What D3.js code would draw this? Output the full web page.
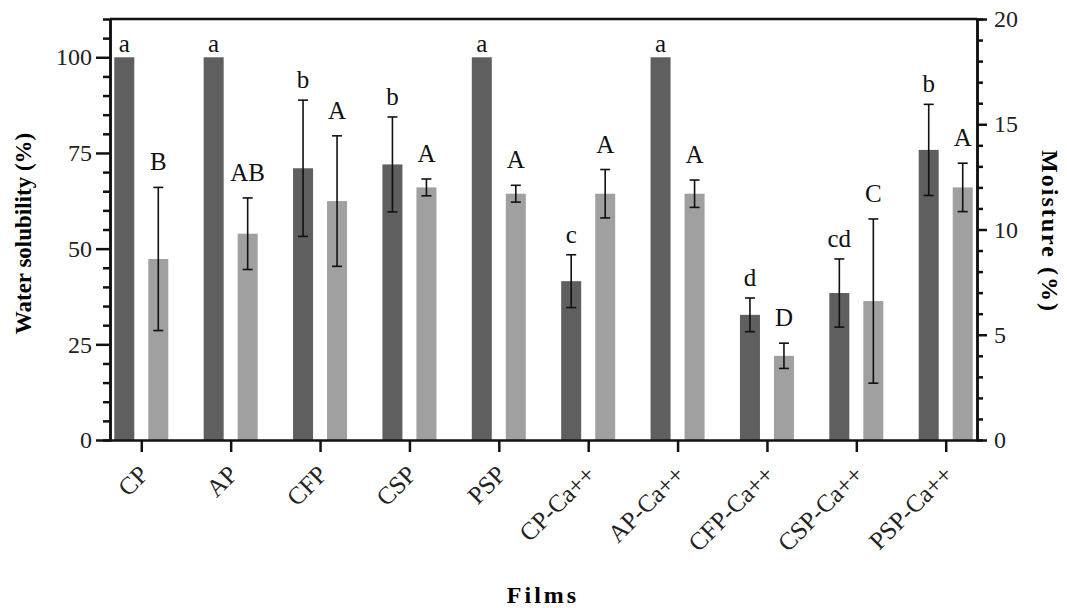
<!DOCTYPE html>
<html>
<head>
<meta charset="utf-8">
<script src="https://cdn.jsdelivr.net/npm/d3@7"></script>
<style>
  body { margin: 0; background: #fff; }
  svg { display: block; font-family: "Liberation Serif", "Times New Roman", serif; }
</style>
</head>
<body>
<svg id="chart" width="1067" height="608"></svg>
<script>
// films on x axis
const films = ['CP', 'AP', 'CFP', 'CSP', 'PSP', 'CP-Ca++', 'AP-Ca++', 'CFP-Ca++', 'CSP-Ca++', 'PSP-Ca++'];

// water solubility (%), left axis
const solubility = [100, 100, 71, 72, 100, 41.5, 100, 32.7, 38.4, 75.8];
const solubilityErr = [0, 0, 17.8, 12.4, 0, 6.9, 0, 4.4, 8.9, 11.9];
const solubilityLetters = ['a', 'a', 'b', 'b', 'a', 'c', 'a', 'd', 'cd', 'b'];

// moisture (%), right axis
const moisture = [8.6, 9.8, 11.35, 12.0, 11.7, 11.7, 11.7, 4.0, 6.6, 12.0];
const moistureErr = [3.4, 1.7, 3.1, 0.4, 0.4, 1.15, 0.65, 0.6, 3.9, 1.15];
const moistureLetters = ['B', 'AB', 'A', 'A', 'A', 'A', 'A', 'D', 'C', 'A'];

const leftTicks = [0, 25, 50, 75, 100];
const rightTicks = [0, 5, 10, 15, 20];

const margin = { top: 19, right: 90, bottom: 168, left: 110 };
const width = 1067 - margin.left - margin.right;
const height = 608 - margin.top - margin.bottom;

const svg = d3.select('#chart')
  .append('g')
  .attr('transform', 'translate(' + margin.left + ',' + margin.top + ')');

const x = d3.scalePoint().domain(films).range([0, width]).padding(0.35);
const yL = d3.scaleLinear().domain([0, 110]).range([height, 0]);
const yR = d3.scaleLinear().domain([0, 20]).range([height, 0]);

const barW = 20;
const offset = 17;
const dark = '#5f5f5f';
const light = '#a0a0a0';

// bars
svg.selectAll('.bar-s')
  .data(films)
  .enter()
  .append('rect')
  .attr('x', (d) => x(d) - offset - barW / 2)
  .attr('y', (d, i) => yL(solubility[i]))
  .attr('width', barW)
  .attr('height', (d, i) => height - yL(solubility[i]))
  .attr('fill', dark);

svg.selectAll('.bar-m')
  .data(films)
  .enter()
  .append('rect')
  .attr('x', (d) => x(d) + offset - barW / 2)
  .attr('y', (d, i) => yR(moisture[i]))
  .attr('width', barW)
  .attr('height', (d, i) => height - yR(moisture[i]))
  .attr('fill', light);

// error bars
function errorBars(vals, errs, y, dx) {
  films.forEach((f, i) => {
    if (!errs[i]) return;
    const cx = x(f) + dx;
    const y0 = y(vals[i] - errs[i]);
    const y1 = y(vals[i] + errs[i]);
    const g = svg.append('g').attr('stroke', '#111').attr('stroke-width', 1.6);
    g.append('line').attr('x1', cx).attr('x2', cx).attr('y1', y0).attr('y2', y1);
    g.append('line').attr('x1', cx - 5).attr('x2', cx + 5).attr('y1', y0).attr('y2', y0);
    g.append('line').attr('x1', cx - 5).attr('x2', cx + 5).attr('y1', y1).attr('y2', y1);
  });
}
errorBars(solubility, solubilityErr, yL, -offset);
errorBars(moisture, moistureErr, yR, offset);

// significance letters
function letters(vals, errs, labels, y, dx, gap, gapBare) {
  svg.selectAll(null)
    .data(films)
    .enter()
    .append('text')
    .attr('x', (d) => x(d) + dx)
    .attr('y', (d, i) => y(vals[i] + errs[i]) - (errs[i] ? gap : gapBare))
    .attr('text-anchor', 'middle')
    .attr('font-size', 25)
    .attr('fill', '#111')
    .text((d, i) => labels[i]);
}
letters(solubility, solubilityErr, solubilityLetters, yL, -offset, 12, 5);
letters(moisture, moistureErr, moistureLetters, yR, offset, 17, 17);

// axes
const axisStroke = 2.5;

const left = svg.append('g')
  .call(d3.axisLeft(yL).tickValues(leftTicks).tickSize(14).tickPadding(4).tickSizeOuter(0));
left.append('g')
  .call(d3.axisLeft(yL).tickValues(d3.range(5, 110, 5).filter((v) => v % 25 !== 0)).tickSize(7).tickFormat(''));

const right = svg.append('g')
  .attr('transform', 'translate(' + width + ',0)')
  .call(d3.axisRight(yR).tickValues(rightTicks).tickSize(10).tickPadding(7).tickSizeOuter(0));
right.append('g')
  .call(d3.axisRight(yR).tickValues(d3.range(1, 20, 1).filter((v) => v % 5 !== 0)).tickSize(6).tickFormat(''));

const bottom = svg.append('g')
  .attr('transform', 'translate(0,' + height + ')')
  .call(d3.axisBottom(x).tickSize(12).tickPadding(6).tickSizeOuter(0));

svg.selectAll('.domain').attr('stroke', '#111').attr('stroke-width', axisStroke);
svg.selectAll('.tick line').attr('stroke', '#111').attr('stroke-width', axisStroke);
svg.selectAll('.tick text')
  .attr('font-size', 24)
  .attr('fill', '#222')
  .attr('font-family', '"Liberation Serif", "Times New Roman", serif');

bottom.selectAll('text')
  .attr('text-anchor', 'end')
  .attr('x', 0)
  .attr('y', 0)
  .attr('dy', 0)
  .attr('font-size', 25)
  .attr('transform', 'translate(8,36) rotate(-45)');

// top border
svg.append('line')
  .attr('x1', 0).attr('x2', width)
  .attr('y1', 0).attr('y2', 0)
  .attr('stroke', '#111').attr('stroke-width', axisStroke);

// axis titles
svg.append('text')
  .attr('transform', 'translate(' + (-79) + ',' + (height / 2 + 4) + ') rotate(-90)')
  .attr('text-anchor', 'middle')
  .attr('font-size', 23)
  .attr('font-weight', 'bold')
  .text('Water solubility (%)');

svg.append('text')
  .attr('transform', 'translate(' + (width + 65) + ',' + (height / 2 + 2) + ') rotate(90)')
  .attr('text-anchor', 'middle')
  .attr('font-size', 24)
  .attr('font-weight', 'bold')
  .attr('letter-spacing', 2)
  .text('Moisture (%)');

svg.append('text')
  .attr('x', 433)
  .attr('y', height + 163)
  .attr('text-anchor', 'middle')
  .attr('font-size', 24)
  .attr('font-weight', 'bold')
  .attr('letter-spacing', 3)
  .text('Films');
</script>
</body>
</html>
